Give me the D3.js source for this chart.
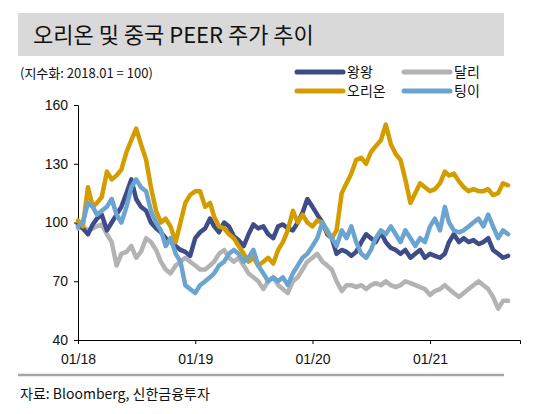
<!DOCTYPE html>
<html><head><meta charset="utf-8">
<script src="https://cdn.jsdelivr.net/npm/d3@7"></script>
<style>body{margin:0;background:#fff;font-family:"Noto Sans CJK KR","Liberation Sans",sans-serif}</style>
</head><body><svg id="c" width="554" height="414"></svg>
<script>
// half-monthly samples from 2018.01 (index 0) to 2021.09
var wangwang = [99,97,94,99,102,104,96,100,104,108,115,122,112,108,106,100,97,95,92,90,88,86,85,83,92,95,97,102,98,95,100,98,93,91,88,94,99,97,98,94,92,98,99,97,96,100,105,112,108,104,100,94,92,84,86,85,83,85,90,94,92,90,95,90,87,86,84,86,82,84,86,82,84,83,82,84,90,94,90,92,90,91,89,90,92,86,84,82,83];
var orion = [101,98,118,108,110,113,126,122,124,127,136,142,148,140,132,118,106,100,102,98,90,100,110,114,116,116,108,110,103,98,97,94,92,88,84,80,82,78,80,82,79,86,90,96,106,100,104,100,98,101,100,95,92,96,115,120,125,132,133,130,136,139,142,150,140,135,132,122,110,115,120,118,116,117,120,126,124,125,121,118,116,117,116,116,117,114,115,120,119];
var dali = [97,98,96,97,98,99,94,90,78,84,85,88,82,85,92,90,86,80,76,74,78,80,82,80,78,76,76,78,80,84,86,82,80,82,78,74,72,70,66,70,72,68,66,64,70,72,76,80,82,84,80,78,76,70,65,68,68,67,68,66,68,69,68,70,68,67,68,70,69,68,67,66,63,65,66,68,66,64,62,64,66,68,70,68,66,62,56,60,60];
var tingyi = [98,100,110,108,104,106,108,112,104,100,108,118,122,118,116,106,100,96,88,92,84,80,68,66,64,68,70,72,74,78,80,84,86,84,80,82,86,78,74,70,72,70,72,68,74,78,82,84,88,92,100,96,92,88,96,92,98,90,84,82,86,92,96,94,98,94,90,96,92,88,92,90,98,102,96,108,100,96,95,96,98,100,102,98,104,98,92,96,94];
var yTicks = [40,70,100,130,160];
var xTicks = ["01/18","01/19","01/20","01/21"];

var series = [
  {name:"달리", values:dali, color:"#b3b3b3"},
  {name:"왕왕", values:wangwang, color:"#3e4c88"},
  {name:"오리온", values:orion, color:"#d39d00"},
  {name:"팅이", values:tingyi, color:"#6ba4d1"}
];
function dateAt(i){ return new Date(2018, Math.floor(i/2), i%2 ? 16 : 1); }

var svg = d3.select("#c");
svg.append("rect").attr("x",18).attr("y",13).attr("width",486).attr("height",43).attr("fill","#d9d9d9");
svg.append("text").attr("x",33).attr("y",43).attr("font-size",22).attr("fill","#111").text("오리온 및 중국 PEER 주가 추이");
svg.append("text").attr("x",20).attr("y",78).attr("font-size",13).attr("fill","#111").text("(지수화: 2018.01  = 100)");

var x = d3.scaleTime().domain([new Date(2018,0,1), new Date(2021,9,8)]).range([78,520]);
var y = d3.scaleLinear().domain([40,160]).range([340,105]);

function styleAxis(g){
  g.selectAll("text").attr("font-size",14).attr("font-family","Liberation Sans, sans-serif").attr("fill","#111");
  g.selectAll("line,path").attr("stroke","#000");
}
svg.append("g").attr("transform","translate(78,0)")
  .call(d3.axisLeft(y).tickValues(yTicks).tickSize(4).tickPadding(6))
  .call(styleAxis);
svg.append("g").attr("transform","translate(0,340)")
  .call(d3.axisBottom(x).tickValues(xTicks.map(function(t,i){return new Date(2018+i,0,1);}))
    .tickFormat(function(d,i){return xTicks[i];}).tickSize(4).tickPadding(10))
  .call(styleAxis);

var line = d3.line().x(function(d,i){return x(dateAt(i));}).y(function(d){return y(d);});
series.forEach(function(s){
  svg.append("path").datum(s.values).attr("d",line).attr("fill","none")
    .attr("stroke",s.color).attr("stroke-width",4.5).attr("stroke-linejoin","round").attr("stroke-linecap","round");
});

var legend = [
  {name:"왕왕", color:"#3e4c88", x:297, y:72},
  {name:"달리", color:"#b3b3b3", x:404, y:72},
  {name:"오리온", color:"#d39d00", x:297, y:91},
  {name:"팅이", color:"#6ba4d1", x:404, y:91}
];
legend.forEach(function(l){
  svg.append("line").attr("x1",l.x).attr("x2",l.x+46).attr("y1",l.y).attr("y2",l.y)
    .attr("stroke",l.color).attr("stroke-width",5).attr("stroke-linecap","round");
  svg.append("text").attr("x",l.x+50).attr("y",l.y+5).attr("font-size",14).attr("fill","#111").text(l.name);
});

svg.append("line").attr("x1",18).attr("x2",504).attr("y1",375).attr("y2",375).attr("stroke","#a6a6a6").attr("stroke-width",2.5);
svg.append("text").attr("x",20).attr("y",399).attr("font-size",14).attr("fill","#111").text("자료: Bloomberg, 신한금융투자");
</script></body></html>
